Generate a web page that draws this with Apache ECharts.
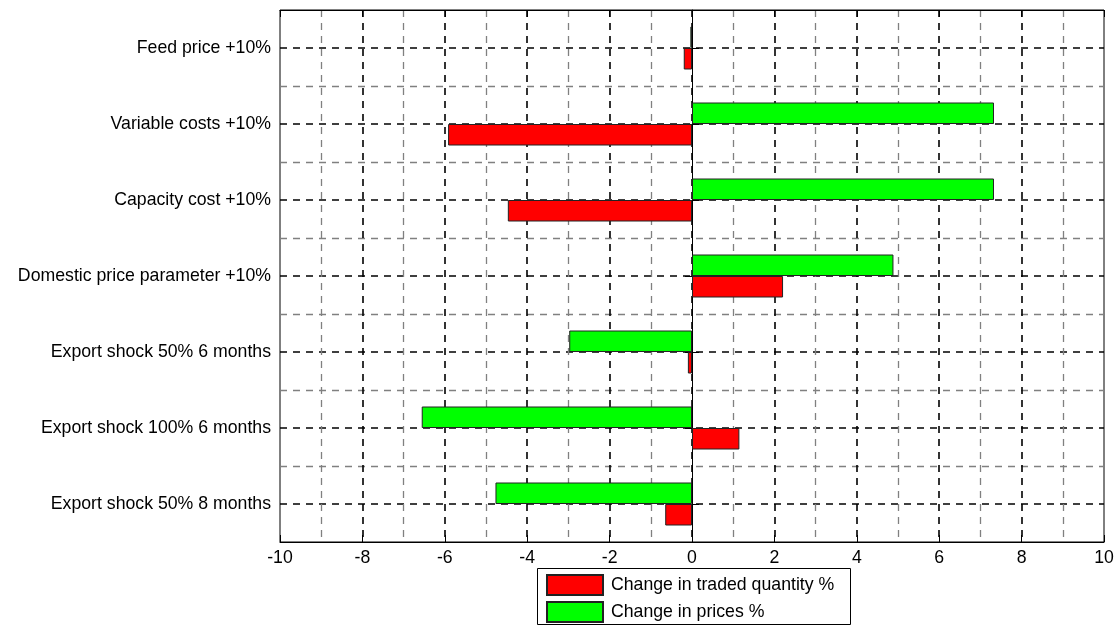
<!DOCTYPE html>
<html>
<head>
<meta charset="utf-8">
<script src="https://cdn.jsdelivr.net/npm/echarts@6/dist/echarts.min.js"></script>
<style>
html,body{margin:0;padding:0;background:#fff;}
#chart{width:1118px;height:626px;}
</style>
</head>
<body>
<div id="chart"></div>
<script>
const categories = [
  'Feed price +10%',
  'Variable costs +10%',
  'Capacity cost +10%',
  'Domestic price parameter +10%',
  'Export shock 50% 6 months',
  'Export shock 100% 6 months',
  'Export shock 50% 8 months'
];
const quantityChange = [-0.2, -5.92, -4.47, 2.21, -0.1, 1.15, -0.65];
const priceChange = [-0.04, 7.33, 7.33, 4.89, -2.98, -6.56, -4.77];
const xTicks = [-10, 10, 2];
const seriesNames = ['Change in traded quantity %', 'Change in prices %'];

const FONT = 'Liberation Sans, Arial, sans-serif';
const legendCommon = {
  orient: 'vertical',
  icon: 'rect',
  itemWidth: 56, itemHeight: 20,
  textStyle: {fontFamily: FONT, fontSize: 17.7, color: '#000', padding: [0, 0, 0, 3]},
  selectedMode: false
};
const chart = echarts.init(document.getElementById('chart'), null, {renderer: 'canvas'});
chart.setOption({
  animation: false,
  backgroundColor: '#fff',
  graphic: [{
    type: 'rect', left: 537, top: 568, z: 0,
    shape: {width: 313, height: 56},
    style: {fill: '#fff', stroke: '#000', lineWidth: 1}
  }],
  grid: {left: 280, right: 14, top: 10, bottom: 84, show: true, borderColor: '#000', borderWidth: 1, backgroundColor: 'transparent'},
  legend: [
    Object.assign({data: [seriesNames[0]], left: 537, top: 569, padding: [5, 9, 0, 9]}, legendCommon),
    Object.assign({data: [seriesNames[1]], left: 537, top: 596, padding: [5, 9, 0, 9]}, legendCommon)
  ],
  xAxis: [{
    type: 'value', min: xTicks[0], max: xTicks[1], interval: xTicks[2], position: 'bottom',
    axisLine: {show: true, lineStyle: {color: '#000', width: 1}},
    axisTick: {show: true, inside: true, length: 7, lineStyle: {color: '#000'}},
    axisLabel: {fontFamily: FONT, fontSize: 17.7, color: '#000', margin: 7},
    splitLine: {show: true, showMinLine: false, showMaxLine: false, lineStyle: {color: '#000', width: 1.6, type: [7, 6]}},
    minorTick: {show: false, splitNumber: 2},
    minorSplitLine: {show: true, lineStyle: {color: '#808080', width: 1.3, type: [7, 6]}}
  }, {
    type: 'value', min: xTicks[0], max: xTicks[1], interval: xTicks[2], position: 'top',
    axisLine: {show: true, lineStyle: {color: '#000', width: 1}},
    axisTick: {show: true, inside: true, length: 7, lineStyle: {color: '#000'}},
    axisLabel: {show: false},
    splitLine: {show: false}
  }],
  yAxis: [{
    type: 'category', data: categories, inverse: true,
    axisLine: {show: true, lineStyle: {color: '#000', width: 1}},
    axisTick: {show: true, inside: true, alignWithLabel: true, length: 7, lineStyle: {color: '#000'}},
    axisLabel: {fontFamily: FONT, fontSize: 17.7, color: '#000', margin: 9},
    splitLine: {show: false}
  }, {
    type: 'value', min: 0, max: 7, interval: 1, position: 'right',
    axisLine: {show: false},
    axisTick: {show: false, inside: true},
    axisLabel: {show: false},
    splitLine: {show: true, showMinLine: false, showMaxLine: false, lineStyle: {color: '#808080', width: 1.3, type: [7, 6]}},
    minorTick: {show: true, splitNumber: 2, length: 7, lineStyle: {color: '#000', width: 1}},
    minorSplitLine: {show: true, lineStyle: {color: '#000', width: 1.6, type: [7, 6]}}
  }],
  series: [{
    name: seriesNames[1], type: 'bar', yAxisIndex: 0, data: priceChange,
    barWidth: 21.5, barGap: '0%',
    itemStyle: {color: '#00ff00', borderColor: '#222', borderWidth: 1}
  }, {
    name: seriesNames[0], type: 'bar', yAxisIndex: 0, data: quantityChange,
    barWidth: 21.5, barGap: '0%',
    itemStyle: {color: '#ff0000', borderColor: '#222', borderWidth: 1}
  }]
});
</script>
</body>
</html>
